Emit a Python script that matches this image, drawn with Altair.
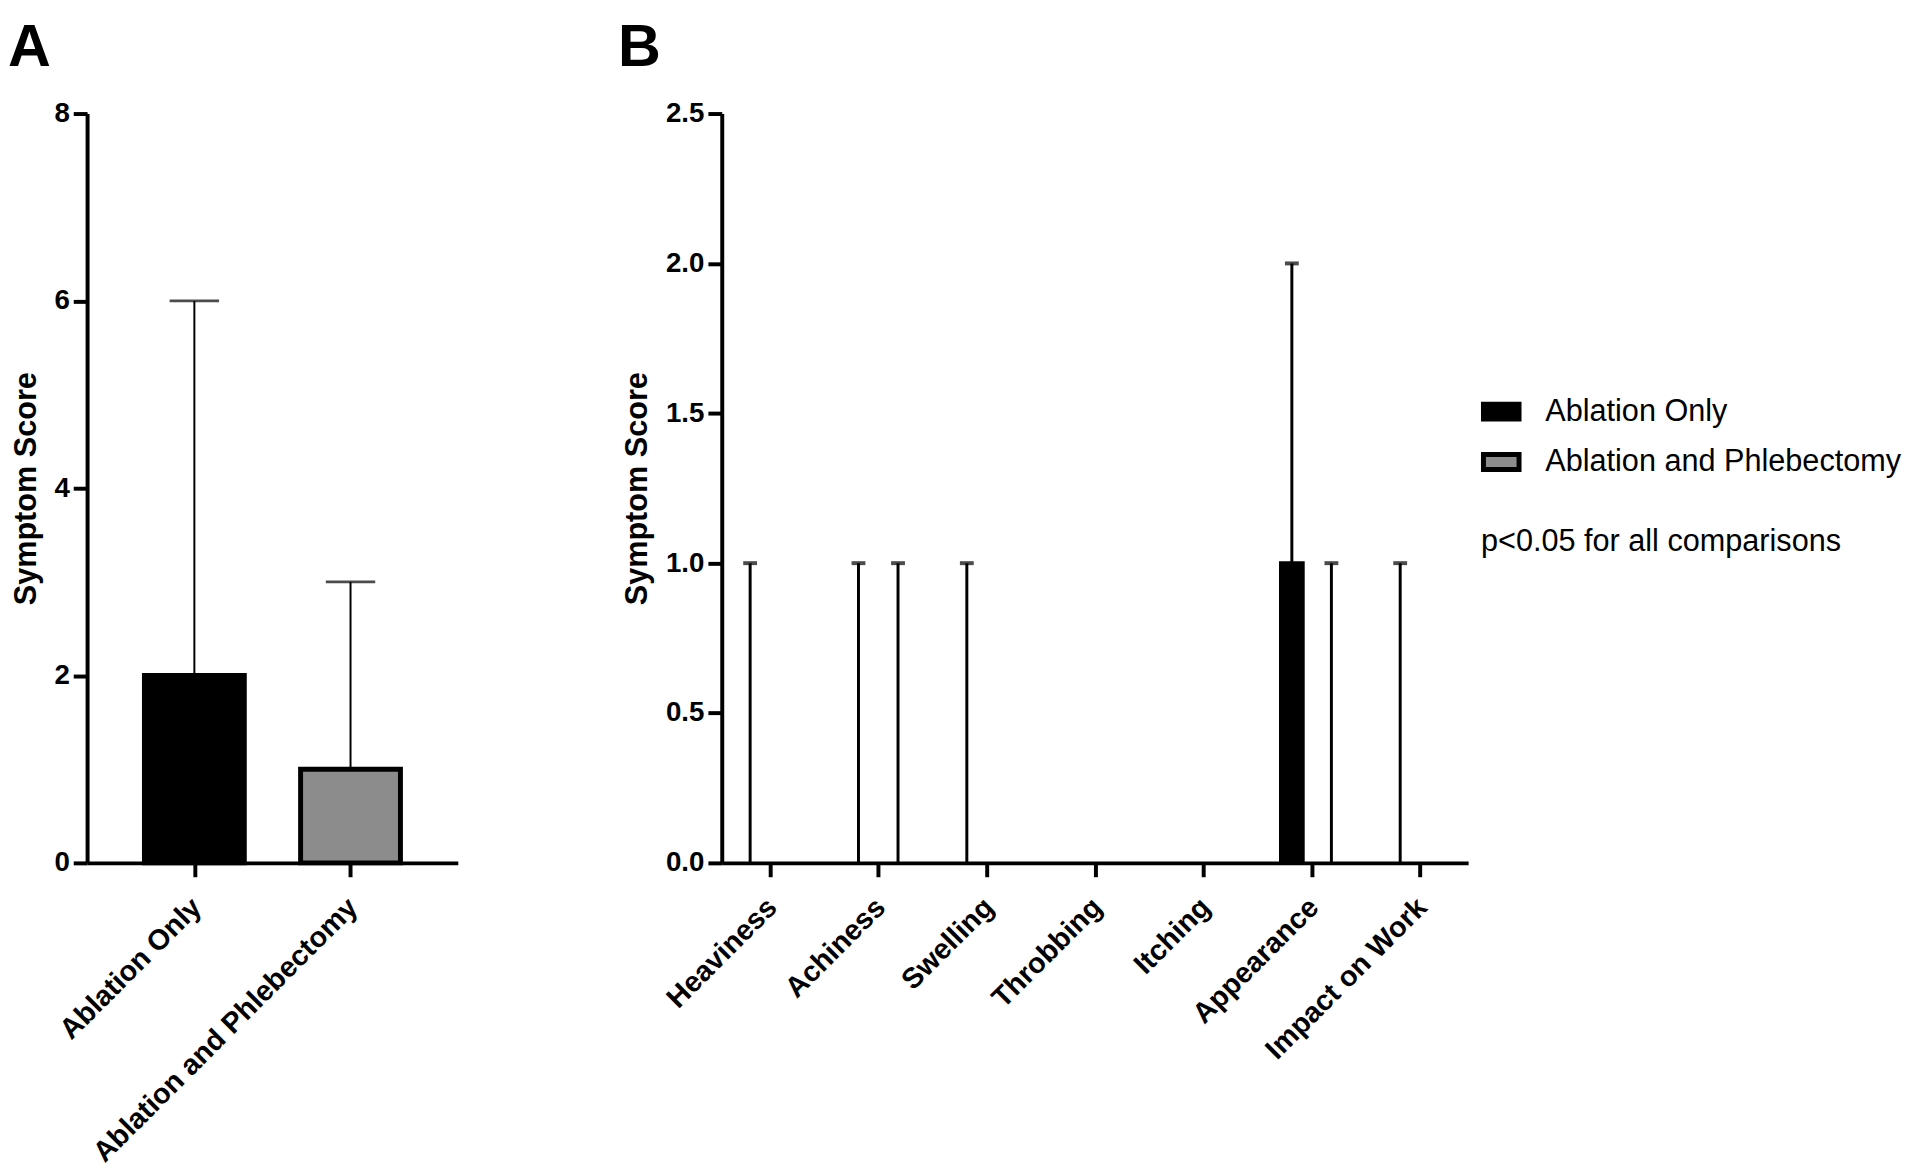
import altair as alt
import pandas as pd

# ---- data ----
groups = ["Ablation Only", "Ablation and Phlebectomy"]
colors = ["#000000", "#8c8c8c"]

a_median = [2, 1]
a_upper = [6, 3]

symptoms = ["Heaviness", "Achiness", "Swelling", "Throbbing", "Itching",
            "Appearance", "Impact on Work"]
ao_median = [0, 0, 0, 0, 0, 1, 0]
ao_upper = [1, 1, 1, 0, 0, 2, 1]
ap_median = [0, 0, 0, 0, 0, 0, 0]
ap_upper = [0, 1, 0, 0, 0, 1, 0]

FONT = "Liberation Sans"

dfA = pd.DataFrame({"group": groups, "median": a_median, "upper": a_upper})

rows = []
for s, m, u in zip(symptoms, ao_median, ao_upper):
    rows.append({"symptom": s, "group": groups[0], "median": m, "upper": u})
for s, m, u in zip(symptoms, ap_median, ap_upper):
    rows.append({"symptom": s, "group": groups[1], "median": m, "upper": u})
dfB = pd.DataFrame(rows)

color_scale = alt.Scale(domain=groups, range=colors)

xaxis = dict(labelAngle=-45, labelLimit=0, labelPadding=16, labelOffset=-8,
             labelFontSize=29)

# ---- Panel A ----
xA = alt.X("group:N", sort=groups, title=None,
           scale=alt.Scale(type="point", padding=0.687, domain=groups),
           axis=alt.Axis(**xaxis))
yA = alt.Y("median:Q", title="Symptom Score",
           scale=alt.Scale(domain=[0, 8], nice=False),
           axis=alt.Axis(values=[0, 2, 4, 6, 8], format="d"))

baseA = alt.Chart(dfA)
barsA = baseA.mark_bar(size=101, stroke="black", strokeWidth=5).encode(
    x=xA, y=yA,
    color=alt.Color("group:N", scale=color_scale, legend=None),
)
errA = baseA.mark_rule(color="black", strokeWidth=2).encode(
    x=xA, y="median:Q", y2="upper:Q")
capA = baseA.mark_tick(color="black", size=50, thickness=3, orient="horizontal").encode(
    x=xA, y="upper:Q")

panelA = alt.layer(errA, barsA, capA).properties(
    width=375, height=758,
    title=alt.TitleParams("A", anchor="start", frame="group", fontSize=60,
                          fontWeight="bold", font=FONT, color="black",
                          dx=-80, offset=21),
)

# ---- Panel B ----
xB = alt.X("symptom:N", sort=symptoms, title=None,
           scale=alt.Scale(type="point", padding=0.4445, domain=symptoms),
           axis=alt.Axis(**xaxis))
yB = alt.Y("median:Q", title="Symptom Score",
           scale=alt.Scale(domain=[0, 2.5], nice=False),
           axis=alt.Axis(values=[0, 0.5, 1.0, 1.5, 2.0, 2.5], format=".1f"))

legend = alt.Legend(
    title="p<0.05 for all comparisons", orient="none", legendX=768, legendY=281,
    titleOrient="bottom", titleAnchor="start", titleFontSize=31,
    titleFontWeight="normal", titleFont=FONT, titleColor="black",
    titlePadding=48, titleLimit=0,
    labelFontSize=31, labelFont=FONT, labelColor="black", labelLimit=0,
    labelOffset=24, rowPadding=12, padding=0,
    symbolType="M-1,-0.42H1V0.42H-1Z", symbolSize=1296,
    symbolStrokeColor="black", symbolStrokeWidth=5, symbolOpacity=1,
)

layersB = []
for g, off in zip(groups, [-20, 20]):
    base = alt.Chart(dfB).transform_filter(alt.datum.group == g)
    bars = base.transform_filter(alt.datum.median > 0).mark_bar(
        size=22, stroke="black", strokeWidth=4, xOffset=off).encode(
        x=xB, y=yB,
        color=alt.Color("group:N", scale=color_scale, legend=legend),
    )
    errs = base.transform_filter(alt.datum.upper > alt.datum.median).mark_rule(
        color="black", strokeWidth=3, xOffset=off).encode(
        x=xB, y=yB, y2="upper:Q")
    caps = base.transform_filter(alt.datum.upper > alt.datum.median).mark_tick(
        color="black", size=14, thickness=4, orient="horizontal", xOffset=off).encode(
        x=xB, y="upper:Q")
    layersB += [errs, bars, caps]

panelB = alt.layer(*layersB).properties(
    width=755, height=758,
    title=alt.TitleParams("B", anchor="start", frame="group", fontSize=60,
                          fontWeight="bold", font=FONT, color="black",
                          dx=-105, offset=21),
)

chart = alt.hconcat(panelA, panelB, spacing=162).resolve_scale(
    color="independent"
).properties(
    padding={"left": 0, "top": 4, "right": 10, "bottom": 5}
).configure_view(stroke=None).configure_axis(
    domainColor="black", domainWidth=4, tickColor="black", tickWidth=4,
    tickSize=14, labelFont=FONT, labelFontWeight="bold", labelFontSize=28,
    labelColor="black", labelPadding=4, titleFont=FONT, titleFontWeight="bold",
    titleFontSize=31, titleColor="black", titlePadding=12, grid=False,
)

chart.save("out.html", embed_options={"renderer": "svg", "actions": False})
